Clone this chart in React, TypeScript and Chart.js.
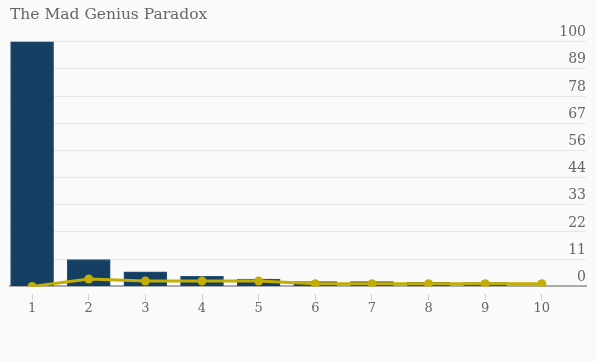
import React, { useEffect, useRef } from "react";
import { Chart, registerables } from "chart.js";

Chart.register(...registerables);

const categories = [1, 2, 3, 4, 5, 6, 7, 8, 9, 10];
const barValues = [100, 11, 6, 4.1, 3, 2, 2, 1.7, 1.6, 0];
const lineValues = [0, 3, 2.2, 2.2, 2.2, 1.1, 1.1, 1.1, 1.1, 1.1];
const yTickLabels = ["0", "11", "22", "33", "44", "56", "67", "78", "89", "100"];
const title = "The Mad Genius Paradox";

const FONT = "'DejaVu Serif', serif";

export default function App() {
  const ref = useRef<HTMLCanvasElement>(null);
  useEffect(() => {
    document.body.style.margin = "0";
    const ctx = ref.current!;
    const chart = new Chart(ctx, {
      type: "bar",
      data: {
        datasets: [
          {
            type: "line",
            data: categories.map((c, i) => ({ x: c, y: lineValues[i] })),
            borderColor: "#c2ad00",
            backgroundColor: "#c2ad00",
            borderWidth: 3,
            pointRadius: 4.5,
            pointBackgroundColor: "#c2ad00",
            pointBorderWidth: 0,
            order: 0,
          } as any,
          {
            type: "bar",
            data: categories.map((c, i) => ({ x: c, y: barValues[i] })),
            backgroundColor: "#143f62",
            borderColor: "#2a5479",
            borderWidth: 1,
            barThickness: 43,
            order: 1,
          } as any,
        ],
      },
      options: {
        animation: false,
        responsive: false,
        devicePixelRatio: 1,
        layout: { padding: { left: 10, right: 10, top: 0, bottom: 46 } },
        plugins: {
          legend: { display: false },
          tooltip: { enabled: false },
          title: {
            display: true,
            text: title,
            align: "start",
            color: "#666",
            font: { family: FONT, size: 15.5, weight: "normal" },
            padding: { top: 6, bottom: 17 },
          },
        },
        scales: {
          x: {
            type: "linear",
            offset: false,
            min: 0.61,
            max: 10.78,
            afterBuildTicks: (scale: any) => {
              scale.ticks = categories.map((v) => ({ value: v }));
            },
            grid: {
              offset: false,
              drawOnChartArea: false,
              drawTicks: true,
              tickLength: 14,
              tickColor: "#cfcfcf",
              tickWidth: 1,
              tickBorderDash: [0, 7, 7, 100],
              color: "#cfcfcf",
            },
            border: { display: true, color: "#aaa", width: 2 },
            ticks: {
              color: "#666",
              font: { family: FONT, size: 13 },
              padding: 0,
              callback: (v: any) => String(v),
            },
          },
          y: {
            position: "right",
            min: 0,
            max: 100,
            afterBuildTicks: (scale: any) => {
              scale.ticks = yTickLabels.map((_, i) => ({ value: (100 / 9) * i }));
            },
            grid: { color: "#e6e6e6", drawTicks: false },
            border: { display: false },
            ticks: {
              mirror: true,
              padding: 0,
              labelOffset: -9,
              color: "#666",
              font: { family: FONT, size: 14 },
              callback: (_v: any, i: number) => yTickLabels[i],
            },
          },
        },
      },
    });
    return () => chart.destroy();
  }, []);
  return (
    <div style={{ width: 596, height: 362, background: "#fafafa" }}>
      <canvas ref={ref} width={596} height={362} />
    </div>
  );
}
